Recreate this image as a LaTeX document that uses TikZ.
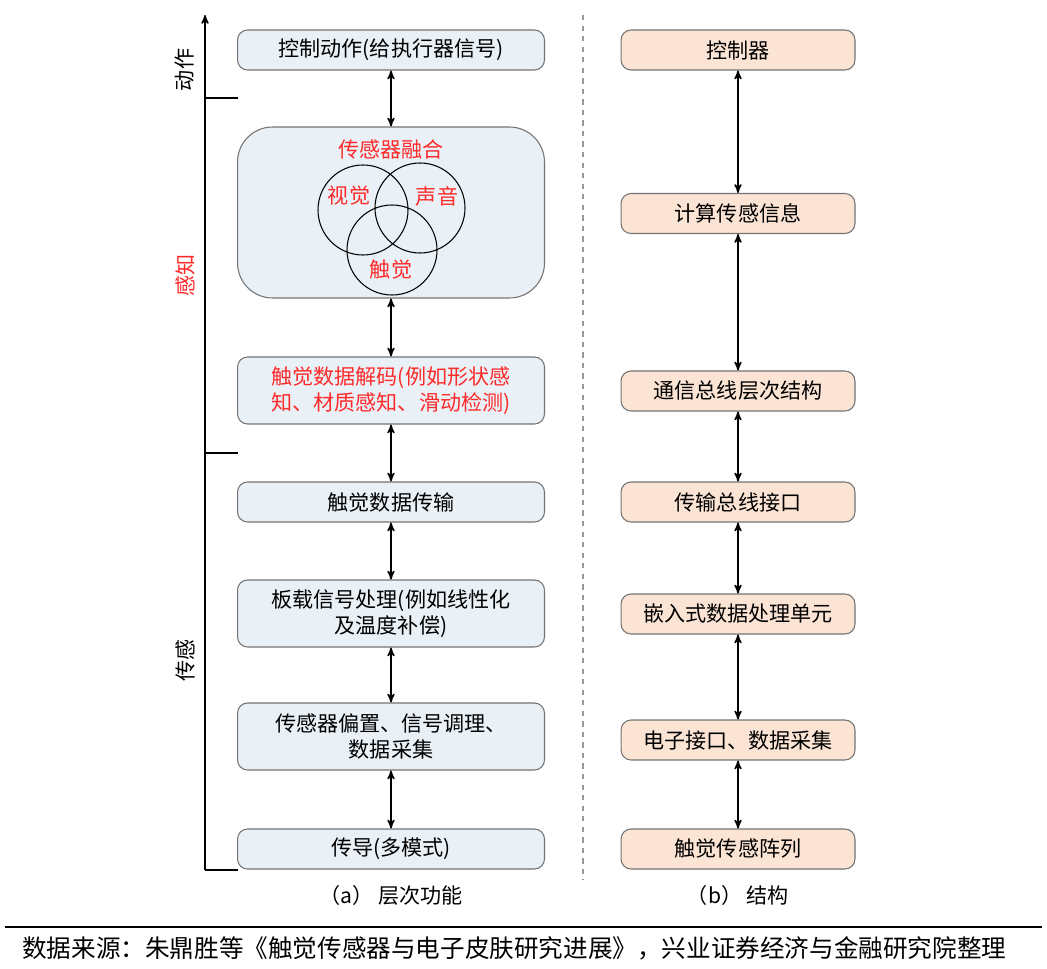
\documentclass[tikz,border=0pt]{standalone}
\usepackage{fontspec}
\setmainfont{Noto Sans CJK SC}
\usetikzlibrary{arrows,positioning,backgrounds,calc}
\definecolor{boxblue}{HTML}{E9F0F6}
\definecolor{boxtan}{HTML}{FBE4D4}
\definecolor{fuse}{HTML}{FF2A2A}
\begin{document}
\begin{tikzpicture}[x=0.02cm,y=-0.02cm,>=stealth',semithick,
 blk/.style={draw=black!55, rounded corners=2mm, minimum width=6.14cm, minimum height=0.8cm, align=center, font=\fontsize{12}{15}\selectfont, inner sep=2pt},
 lblk/.style={blk, fill=boxblue},
 rblk/.style={blk, fill=boxtan, minimum width=4.68cm},
 link/.style={<->, thick}]
 \useasboundingbox (0,0) rectangle (1047,969);
 % left column
 \node[lblk] (act) at (391, 50) {控制动作(给执行器信号)};
 \node[lblk, rounded corners=7mm, minimum height=3.42cm] (fus) at (391, 212.5) {};
 \node[lblk, text=fuse, minimum height=1.34cm] (dec) at (391, 390.5) {触觉数据解码(例如形状感\\知、材质感知、滑动检测)};
 \node[lblk] (tx) at (391, 502) {触觉数据传输};
 \node[lblk, minimum height=1.34cm] (sig) at (391, 613.5) {板载信号处理(例如线性化\\及温度补偿)};
 \node[lblk, minimum height=1.34cm] (bias) at (391, 736.5) {传感器偏置、信号调理、\\数据采集};
 \node[lblk] (cond) at (391, 849) {传导(多模式)};
 % venn
 \node[text=fuse, font=\fontsize{12}{15}\selectfont] (ftitle) at (391, 149) {传感器融合};
 \draw (363,210) circle (45) (420,208) circle (45) (392,250) circle (45);
 \node[text=fuse, font=\fontsize{12}{15}\selectfont] (vis) at (349,196) {视觉};
 \node[text=fuse, font=\fontsize{12}{15}\selectfont] (aud) at (437,196) {声音};
 \node[text=fuse, font=\fontsize{12}{15}\selectfont] (tac) at (391,270) {触觉};
 \foreach \a/\b in {act/fus, fus/dec, dec/tx, tx/sig, sig/bias, bias/cond}
  \draw[link] (\a) -- (\b);
 % right column
 \node[rblk] (ctl) at (738, 50) {控制器};
 \node[rblk] (cmp) at (738, 213.5) {计算传感信息};
 \node[rblk] (bus) at (738, 391) {通信总线层次结构};
 \node[rblk] (ifc) at (738, 502) {传输总线接口};
 \node[rblk] (emb) at (738, 614) {嵌入式数据处理单元};
 \node[rblk] (eif) at (738, 740) {电子接口、数据采集};
 \node[rblk] (arr) at (738, 849) {触觉传感阵列};
 \foreach \a/\b in {ctl/cmp, cmp/bus, bus/ifc, ifc/emb, emb/eif, eif/arr}
  \draw[link] (\a) -- (\b);
 % level axis
 \coordinate (ax0) at (205,870);
 \coordinate (ax1) at (205,15);
 \draw[->, thick] (ax0) -- (ax1);
 \draw (205,98) -- (238,98) (205,453) -- (238,453) (205,870) -- (238,870);
 \node[rotate=90, font=\fontsize{12}{15}\selectfont] (lact) at (185,70) {动作};
 \node[rotate=90, text=fuse, font=\fontsize{12}{15}\selectfont] (lper) at (185,275) {感知};
 \node[rotate=90, font=\fontsize{12}{15}\selectfont] (lsen) at (185,660) {传感};
 % divider and captions
 \draw[dashed, black!40] (583,15) -- (583,880);
 \node[font=\fontsize{12}{15}\selectfont] (capa) at (391,895) {（a） 层次功能};
 \node[font=\fontsize{12}{15}\selectfont] (capb) at (738,895) {（b） 结构};
 \draw[line width=1.2pt] (5,927) -- (1042,927);
 \node[anchor=west, font=\fontsize{14}{16}\selectfont] (src) at (16,948) {数据来源：朱鼎胜等《触觉传感器与电子皮肤研究进展》，兴业证券经济与金融研究院整理};
\end{tikzpicture}
\end{document}
